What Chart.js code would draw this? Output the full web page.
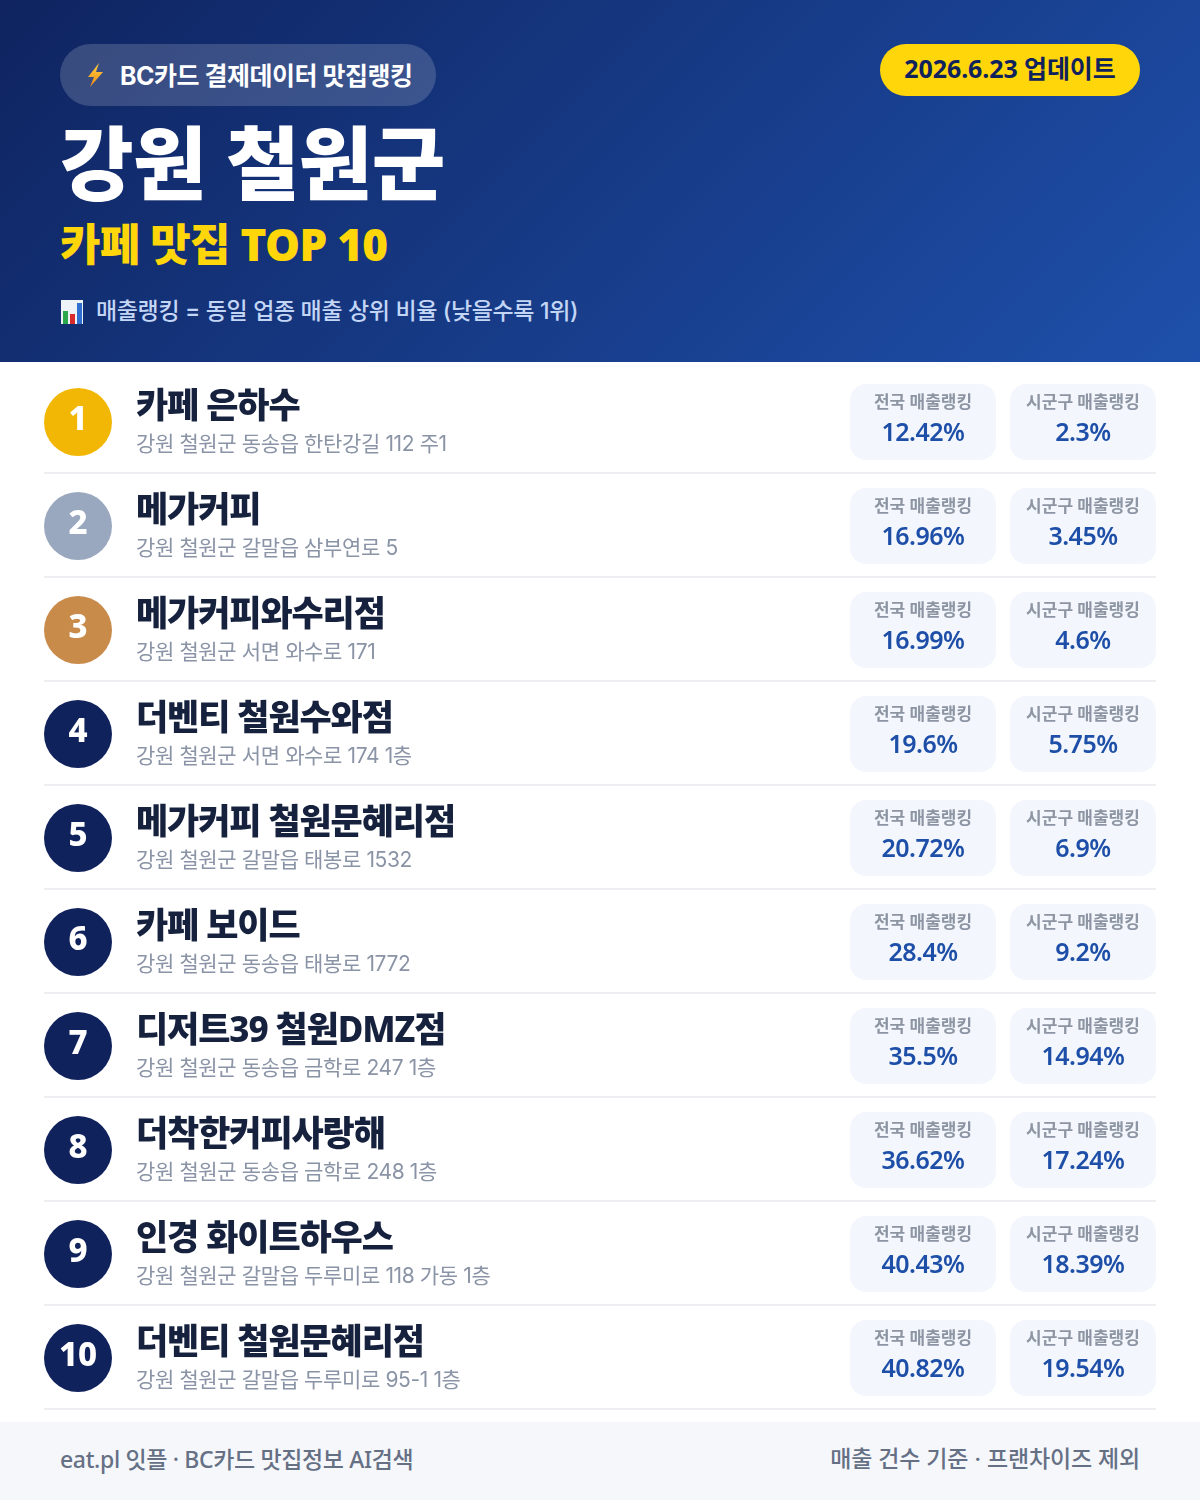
<!DOCTYPE html>
<html lang="ko"><head><meta charset="utf-8">
<script src="https://cdn.jsdelivr.net/npm/chart.js@4"></script>
<style>
*{box-sizing:border-box}
html,body{margin:0;padding:0;background:#fff}
body{width:1200px;height:1500px;position:relative;overflow:hidden;font-family:"Noto Sans","Noto Sans CJK KR",sans-serif}
#hd{position:absolute;left:0;top:0;width:1200px;height:362px;background:linear-gradient(135deg,#0f2460 0%,#1e50ab 100%)}
#hd div,#ft div{position:absolute;white-space:nowrap}
#pill{left:60px;top:44px;width:376px;height:62px;border-radius:31px;background:rgba(255,255,255,.17)}
#pillT{left:120px;top:45px;height:62px;line-height:62px;font-family:"Inter","Noto Sans CJK KR",sans-serif;font-size:25px;font-weight:700;color:#fff;letter-spacing:-.5px}
#bolt{left:84px;top:62px}
#date{left:880px;top:44px;width:260px;height:52px;line-height:48px;border-radius:26px;background:#ffd60a;color:#10225c;font-size:25px;font-weight:700;text-align:center;letter-spacing:-.1px}
#title{left:60px;top:106px;line-height:112px;font-size:80px;font-weight:900;color:#fff;letter-spacing:-.7px}
#sub{left:60px;top:214px;line-height:60px;font-size:44px;font-weight:900;color:#ffd60a;letter-spacing:-.7px}
#note{left:96px;top:292px;line-height:38px;font-family:"Inter","Noto Sans CJK KR",sans-serif;font-size:23px;font-weight:500;color:#c3d6f6;letter-spacing:-.35px}
#ico{left:60px;top:299px}
#cv{position:absolute;left:0;top:362px}
#ft{position:absolute;left:0;top:1422px;width:1200px;height:78px;background:#f5f7fb}
#ftL{left:60px;top:0;line-height:74px;font-size:23px;font-weight:500;color:#667085;letter-spacing:-.35px}
#ftR{right:60px;top:0;line-height:74px;font-family:"Inter","Noto Sans CJK KR",sans-serif;font-size:23px;font-weight:500;color:#667085;letter-spacing:-.15px}
</style></head><body>
<div id="hd">
 <div id="pill"></div>
 <div id="bolt"><svg width="22" height="26" viewBox="0 0 22 26"><defs><linearGradient id="g" x1="0" y1="0" x2="0" y2="1"><stop offset="0" stop-color="#ffd23f"/><stop offset="1" stop-color="#f08a16"/></linearGradient></defs><path d="M15 1 4 15h6L6 25 19 10h-7z" fill="url(#g)"/></svg></div>
 <div id="pillT">BC카드 결제데이터 맛집랭킹</div>
 <div id="date">2026.6.23 업데이트</div>
 <div id="title">강원 철원군</div>
 <div id="sub">카페 맛집 TOP 10</div>
 <div id="ico"><svg width="24" height="26" viewBox="0 0 24 26"><rect x="1" y="1" width="22" height="24" fill="#eef3f8"/><rect x="3" y="12" width="5" height="13" fill="#2aa84a"/><rect x="10" y="15" width="5" height="10" fill="#d92b2b"/><rect x="17" y="4" width="5" height="21" fill="#2f6fd0"/></svg></div>
 <div id="note">매출랭킹 = 동일 업종 매출 상위 비율 (낮을수록 1위)</div>
</div>
<canvas id="cv" width="1200" height="1060"></canvas>
<div id="ft">
 <div id="ftL">eat.pl 잇플 · BC카드 맛집정보 AI검색</div>
 <div id="ftR">매출 건수 기준 · 프랜차이즈 제외</div>
</div>
<script>
const ranks = [1,2,3,4,5,6,7,8,9,10];
const names = ["카페 은하수","메가커피","메가커피와수리점","더벤티 철원수와점","메가커피 철원문혜리점","카페 보이드","디저트39 철원DMZ점","더착한커피사랑해","인경 화이트하우스","더벤티 철원문혜리점"];
const addresses = ["강원 철원군 동송읍 한탄강길 112 주1","강원 철원군 갈말읍 삼부연로 5","강원 철원군 서면 와수로 171","강원 철원군 서면 와수로 174 1층","강원 철원군 갈말읍 태봉로 1532","강원 철원군 동송읍 태봉로 1772","강원 철원군 동송읍 금학로 247 1층","강원 철원군 동송읍 금학로 248 1층","강원 철원군 갈말읍 두루미로 118 가동 1층","강원 철원군 갈말읍 두루미로 95-1 1층"];
const nationalRank = [12.42,16.96,16.99,19.6,20.72,28.4,35.5,36.62,40.43,40.82];
const districtRank = [2.3,3.45,4.6,5.75,6.9,9.2,14.94,17.24,18.39,19.54];
const columnLabels = ["전국 매출랭킹","시군구 매출랭킹"];

const NOTO='"Noto Sans","Noto Sans CJK KR",sans-serif';
const INTER='"Inter","Noto Sans CJK KR",sans-serif';
const COL={badge:78,text:136,nat:923,dist:1083};
const badgeColors=ranks.map(r=>r===1?'#f2b705':r===2?'#9aa8bf':r===3?'#c98b4a':'#10225c');
function cellImage(){
  const c=document.createElement('canvas');c.width=146;c.height=76;
  const x=c.getContext('2d');x.fillStyle='#f3f6fc';x.beginPath();x.roundRect(0,0,146,76,16);x.fill();
  return c;
}
const cell=cellImage();
const textPlugin={id:'rowText',afterDatasetsDraw(ch){
  const {ctx,scales:{x,y}}=ch;
  const put=(t,px,py,font,color,align,ls)=>{ctx.font=font;ctx.fillStyle=color;ctx.textAlign=align;ctx.textBaseline='middle';ctx.letterSpacing=ls||'0px';ctx.fillText(t,px,py);};
  ctx.save();
  ranks.forEach((r,i)=>{
    const py=y.getPixelForValue(r);
    put(String(r),x.getPixelForValue(COL.badge),py-1,'800 33px '+NOTO,'#fff','center');
    put(names[i],x.getPixelForValue(COL.text),py-14,'800 35px '+NOTO,'#16213e','left','-1.1px');
    put(addresses[i],x.getPixelForValue(COL.text),py+23,'400 21px '+INTER,'#8a94a6','left','-0.38px');
    put(columnLabels[0],x.getPixelForValue(COL.nat),py-19,'600 17px '+INTER,'#8d95a3','center','0px');
    put(columnLabels[1],x.getPixelForValue(COL.dist),py-19,'600 17px '+INTER,'#8d95a3','center','0px');
    put(nationalRank[i]+'%',x.getPixelForValue(COL.nat),py+12,'600 25px '+NOTO,'#1e4fa8','center','-0.5px');
    put(districtRank[i]+'%',x.getPixelForValue(COL.dist),py+12,'600 25px '+NOTO,'#1e4fa8','center','-0.5px');
  });
  ctx.restore();
}};
new Chart(document.getElementById('cv'),{
  type:'scatter',
  data:{datasets:[
    {label:'순위',data:ranks.map(r=>({x:COL.badge,y:r})),pointRadius:34,pointHoverRadius:34,pointBackgroundColor:badgeColors,pointBorderWidth:0,clip:false},
    {label:columnLabels[0],data:ranks.map((r,i)=>({x:COL.nat,y:r,v:nationalRank[i]})),pointStyle:cell,clip:false},
    {label:columnLabels[1],data:ranks.map((r,i)=>({x:COL.dist,y:r,v:districtRank[i]})),pointStyle:cell,clip:false}
  ]},
  options:{
    responsive:false,animation:false,
    layout:{autoPadding:false,padding:{left:44,right:44,top:8,bottom:12}},
    plugins:{legend:{display:false},tooltip:{enabled:false}},
    events:[],
    scales:{
      x:{type:'linear',min:44,max:1156,display:false},
      y:{type:'linear',reverse:true,min:0.5,max:10.5,
        afterBuildTicks(a){a.ticks=ranks.map(r=>({value:r+51/104}));},
        ticks:{display:false},border:{display:false},
        grid:{color:'#eceef2',lineWidth:2,drawTicks:false}}
    }
  },
  plugins:[textPlugin]
});
</script>
</body></html>
